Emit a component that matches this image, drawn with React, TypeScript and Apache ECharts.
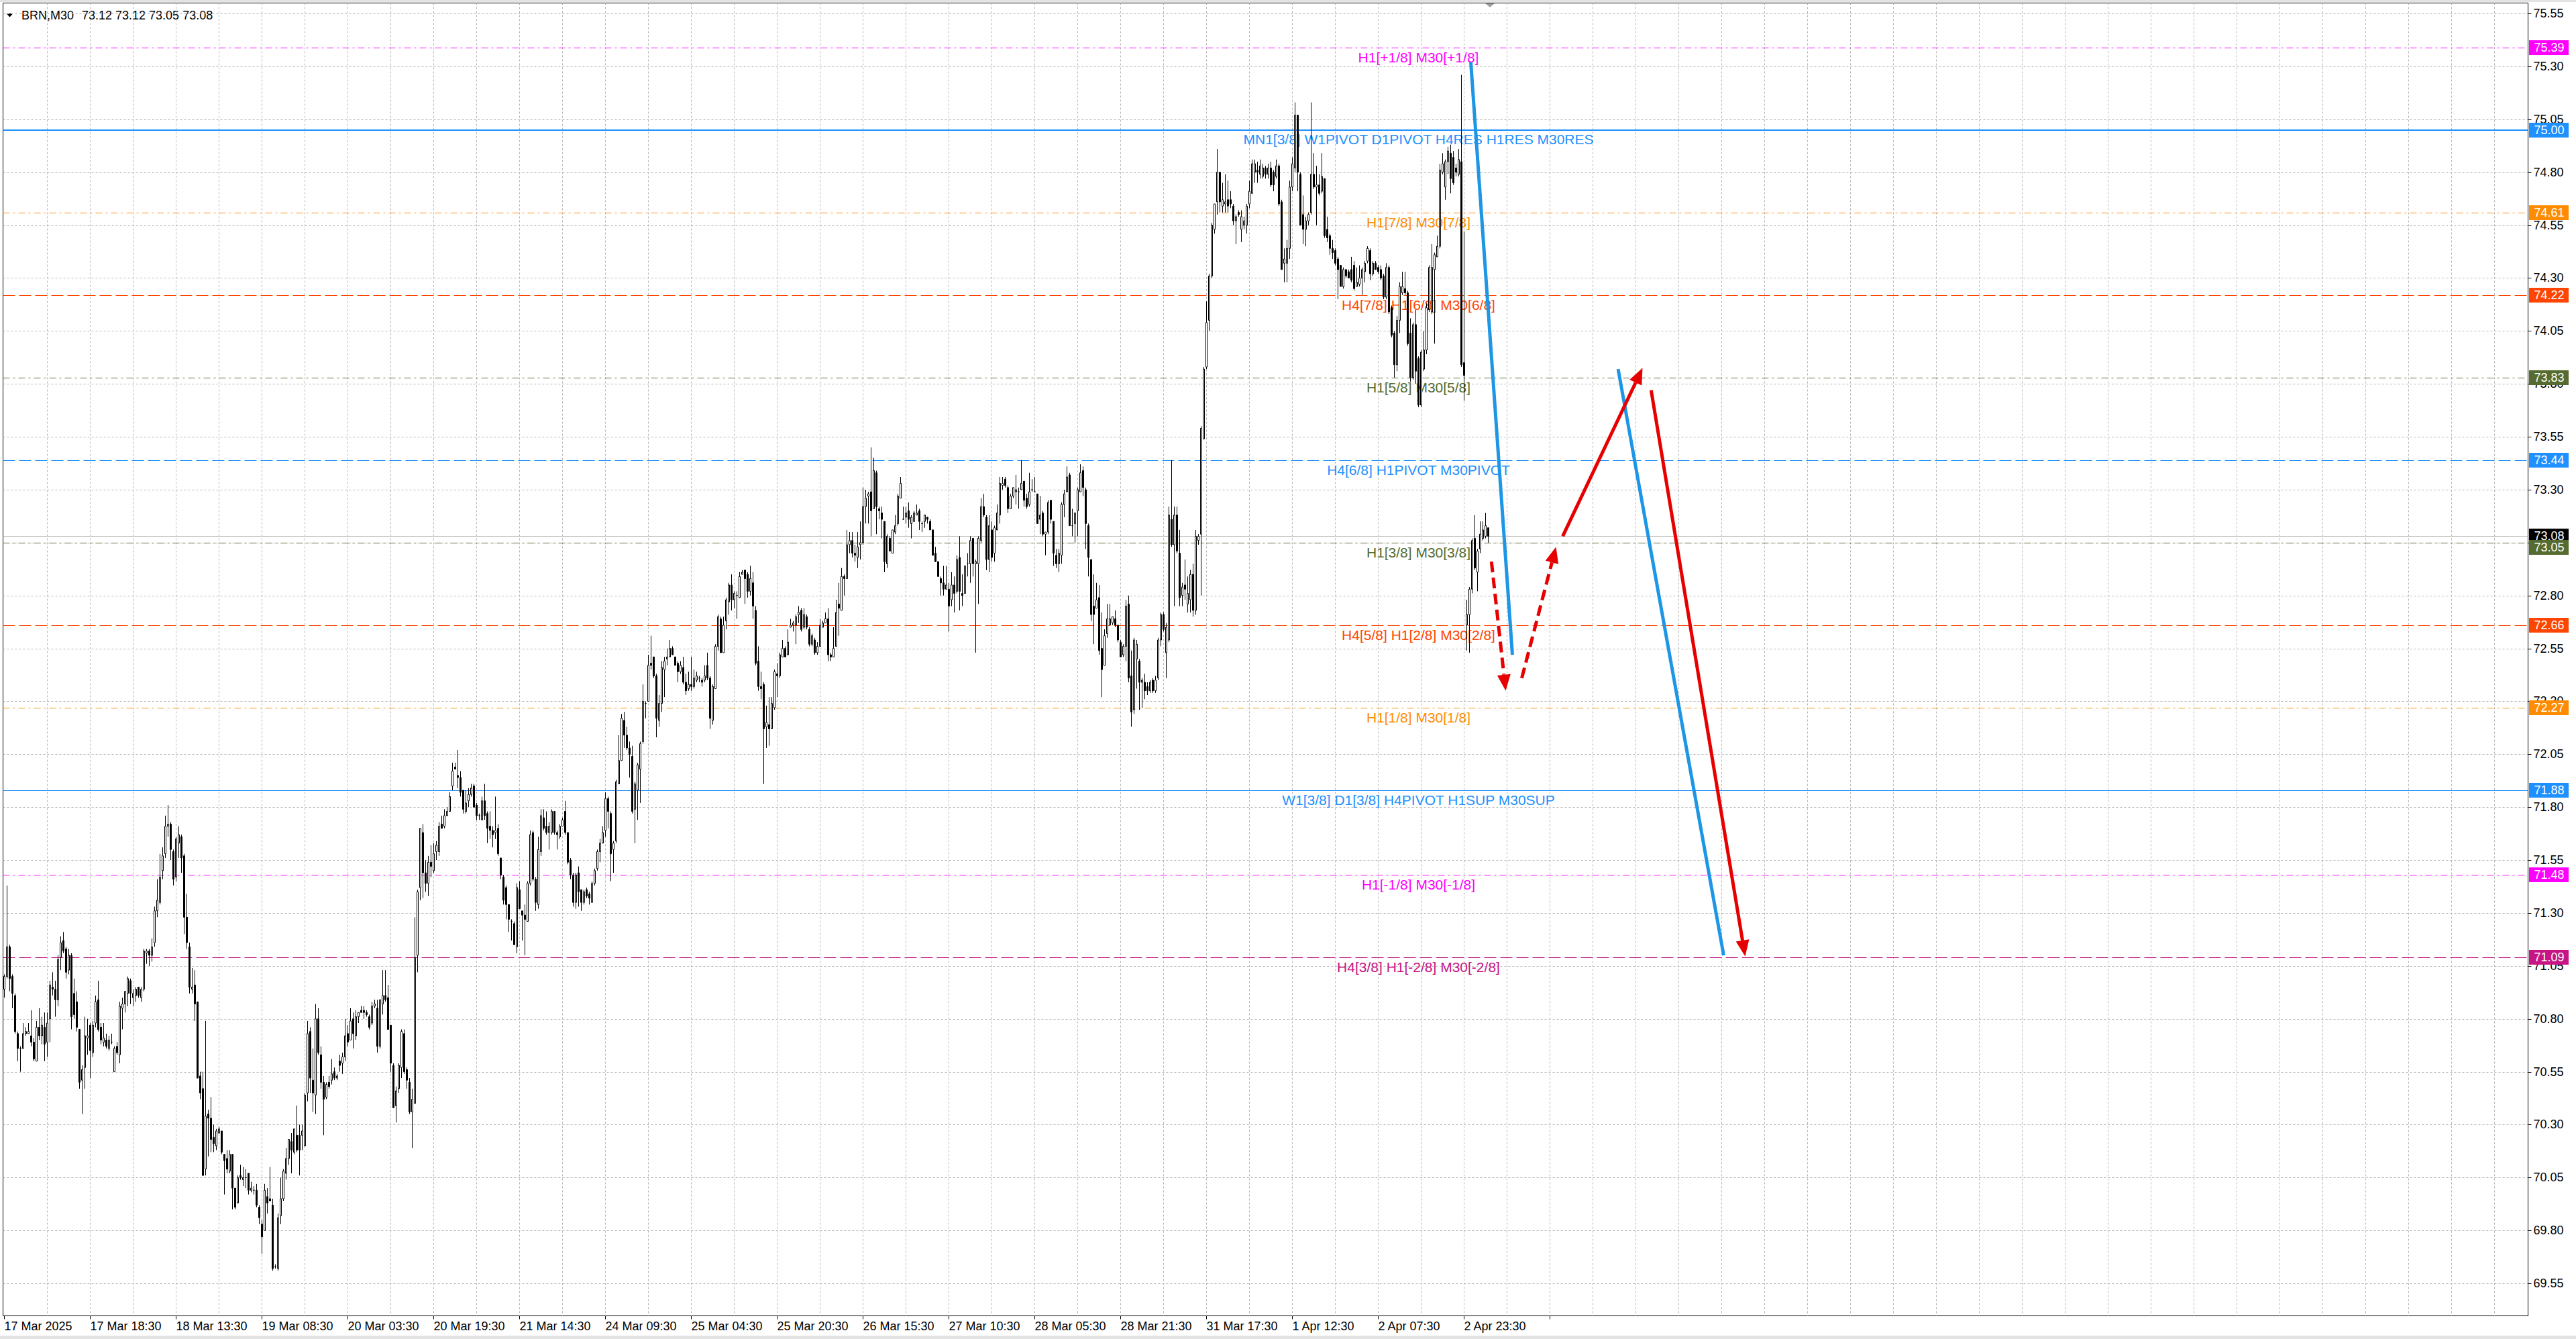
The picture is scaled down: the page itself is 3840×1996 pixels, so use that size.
import React, { useEffect, useRef } from 'react';
import * as echarts from 'echarts';

const FONT_FAMILY = '"Liberation Sans", Arial, sans-serif';

const chartSymbol = 'BRN,M30';

const xTickLabels = [
  '17 Mar 2025', '17 Mar 18:30', '18 Mar 13:30', '19 Mar 08:30', '20 Mar 03:30',
  '20 Mar 19:30', '21 Mar 14:30', '24 Mar 09:30', '25 Mar 04:30', '25 Mar 20:30',
  '26 Mar 15:30', '27 Mar 10:30', '28 Mar 05:30', '28 Mar 21:30', '31 Mar 17:30',
  '1 Apr 12:30', '2 Apr 07:30', '2 Apr 23:30',
];
const barsPerTimeLabel = 32;
const lastTickBar = 576;
const barsPerVerticalGrid = 16;
const slotCount = 941;

const yTicks = [
  75.55, 75.3, 75.05, 74.8, 74.55, 74.3, 74.05, 73.8, 73.55, 73.3, 73.05, 72.8, 72.55,
  72.3, 72.05, 71.8, 71.55, 71.3, 71.05, 70.8, 70.55, 70.3, 70.05, 69.8, 69.55,
];
const priceMin = 69.3966;
const priceMax = 75.5994;

// [open, high, low, close]
const candlesA = [
  [70.94,71.01,70.90,71.00],[71.00,71.43,70.99,71.14],[71.14,71.15,70.93,70.99],[71.00,71.01,70.85,70.92],
  [70.91,70.92,70.73,70.74],[70.73,70.74,70.60,70.66],[70.66,70.67,70.55,70.66],[70.66,70.78,70.66,70.73],
  [70.73,70.76,70.72,70.74],[70.73,70.78,70.73,70.74],[70.72,70.84,70.67,70.69],[70.69,70.71,70.60,70.61],
  [70.60,70.79,70.60,70.76],[70.76,70.85,70.70,70.72],[70.72,70.81,70.68,70.77],[70.76,70.83,70.60,70.68],
  [70.69,70.83,70.62,70.78],[70.80,70.98,70.69,70.96],[70.95,71.02,70.91,70.94],[70.94,70.98,70.81,70.89],
  [70.89,71.10,70.86,71.08],[71.09,71.19,71.03,71.16],[71.17,71.21,71.11,71.12],[71.13,71.14,70.99,71.02],
  [71.03,71.13,71.01,71.10],[71.10,71.11,70.75,70.81],[70.92,70.99,70.80,70.82],[70.88,70.93,70.74,70.76],
  [70.75,70.75,70.47,70.50],[70.51,70.58,70.35,70.56],[70.57,70.81,70.47,70.72],[70.71,70.80,70.63,70.72],
  [70.77,70.78,70.52,70.65],[70.64,70.79,70.62,70.77],[70.78,70.91,70.76,70.88],[70.89,70.98,70.74,70.75],
  [70.76,70.78,70.68,70.70],[70.69,70.78,70.67,70.71],[70.70,70.73,70.66,70.67],[70.66,70.72,70.65,70.70],
  [70.69,70.73,70.68,70.69],[70.55,70.67,70.55,70.66],[70.67,70.69,70.63,70.64],[70.63,70.88,70.59,70.86],
  [70.85,70.90,70.75,70.87],[70.87,70.93,70.83,70.93],[70.92,71.00,70.86,70.99],[70.98,70.99,70.87,70.92],
  [70.90,70.94,70.86,70.92],[70.91,70.95,70.88,70.94],[70.95,70.95,70.90,70.91],[70.90,70.95,70.88,70.94],
  [70.94,71.13,70.93,71.12],[71.11,71.13,71.06,71.12],[71.12,71.13,71.05,71.10],[71.10,71.18,71.07,71.14],
  [71.16,71.33,71.14,71.31],[71.31,71.46,71.28,71.36],[71.35,71.58,71.34,71.47],[71.50,71.61,71.46,71.57],
  [71.58,71.76,71.56,71.71],[71.71,71.81,71.66,71.72],[71.72,71.73,71.55,71.60],[71.59,71.60,71.43,71.46],
  [71.47,71.66,71.45,71.65],[71.63,71.71,71.56,71.67],[71.66,71.67,71.49,71.56],[71.57,71.58,71.20,71.28],
  [71.28,71.39,71.13,71.16],[71.14,71.16,70.92,70.95],[70.94,71.04,70.92,70.95],[70.96,71.03,70.79,70.87],
  [70.88,70.88,70.52,70.52],[70.53,70.55,70.42,70.45],[70.47,70.55,70.06,70.06],[70.09,70.79,70.06,70.34],
  [70.35,70.37,70.15,70.33],[70.33,70.43,70.17,70.23],[70.24,70.30,70.17,70.21],[70.20,70.28,70.18,70.27],
  [70.26,70.29,70.26,70.28],[70.27,70.27,70.16,70.17],[70.16,70.16,69.97,70.13],[70.14,70.18,70.07,70.09],
  [70.08,70.18,70.07,70.16],[70.16,70.16,69.90,70.00],[70.00,70.00,69.90,69.91],[69.93,70.06,69.93,70.05],
  [70.06,70.11,70.04,70.05],[70.04,70.10,70.01,70.05],[70.05,70.09,70.00,70.05],[70.07,70.07,69.97,69.99],
  [69.99,70.03,69.98,70.00],[69.99,70.01,69.97,69.99],[69.99,70.02,69.91,69.92],[69.91,69.92,69.83,69.86],
  [69.83,69.85,69.69,69.77],[69.80,70.02,69.80,69.99],[69.96,70.00,69.88,69.93],[69.95,70.10,69.94,69.94],
  [69.92,69.95,69.61,69.62],[69.63,69.64,69.62,69.63],[69.62,69.88,69.61,69.86],[69.87,70.05,69.83,69.95],
  [69.95,70.09,69.94,70.08],[70.07,70.19,70.04,70.14],[70.14,70.23,70.11,70.23],[70.22,70.26,70.07,70.18],
  [70.17,70.28,70.16,70.28],[70.25,70.39,70.17,70.18],[70.25,70.30,70.06,70.18],[70.25,70.30,70.18,70.27],
  [70.20,70.45,70.20,70.44],[70.45,70.79,70.41,70.73],[70.74,70.76,70.45,70.52],[70.51,70.66,70.36,70.45],
  [70.44,70.87,70.35,70.80],[70.80,70.85,70.63,70.64],[70.63,70.67,70.47,70.50],[70.50,70.53,70.25,70.42],
  [70.43,70.50,70.42,70.49],[70.50,70.53,70.47,70.48],[70.51,70.61,70.49,70.54],[70.55,70.57,70.51,70.52],
  [70.52,70.54,70.51,70.53],[70.60,70.63,70.55,70.58],[70.59,70.64,70.54,70.62],[70.62,70.80,70.60,70.72],
  [70.73,70.77,70.67,70.69],[70.70,70.85,70.70,70.79],[70.80,70.83,70.66,70.73],[70.72,70.84,70.70,70.81],
  [70.81,70.83,70.78,70.83],[70.84,70.86,70.83,70.83],[70.84,70.86,70.80,70.83],[70.83,70.84,70.81,70.82],
  [70.81,70.82,70.75,70.76],[70.78,70.88,70.77,70.86],[70.86,70.89,70.85,70.87],
];

const candlesB = [
  [70.85,70.89,70.64,70.67],[70.67,70.89,70.66,70.89],[70.87,71.03,70.82,70.91],[70.91,71.03,70.88,70.89],
  [70.90,70.96,70.75,70.75],[70.77,70.77,70.55,70.59],[70.58,70.59,70.38,70.38],[70.39,70.48,70.31,70.46],
  [70.47,70.59,70.45,70.58],[70.57,70.75,70.52,70.74],[70.73,70.75,70.54,70.55],[70.56,70.57,70.47,70.51],
  [70.50,70.52,70.35,70.36],[70.36,70.47,70.19,70.42],[70.40,71.28,70.40,71.09],[71.10,71.41,71.02,71.40],
  [71.42,71.70,71.36,71.70],[71.68,71.72,71.37,71.49],[71.49,71.55,71.40,71.44],[71.44,71.57,71.38,71.54],
  [71.54,71.62,71.47,71.52],[71.50,71.63,71.49,71.58],[71.59,71.64,71.55,71.62],[71.59,71.73,71.57,71.71],
  [71.72,71.76,71.70,71.70],[71.71,71.79,71.70,71.76],[71.76,71.80,71.76,71.78],[71.78,71.87,71.78,71.85],
  [71.90,72.01,71.88,71.97],[71.99,72.01,71.98,71.98],[71.95,72.07,71.89,71.94],[71.94,71.97,71.85,71.87],
  [71.88,71.88,71.77,71.79],[71.78,71.88,71.77,71.82],[71.83,71.89,71.80,71.86],[71.86,71.91,71.85,71.89],
  [71.90,71.91,71.80,71.80],[71.81,71.82,71.74,71.76],[71.76,71.77,71.74,71.76],[71.74,71.85,71.74,71.83],
  [71.83,71.91,71.74,71.76],[71.77,71.78,71.63,71.70],[71.71,71.78,71.65,71.69],[71.69,71.71,71.61,71.67],
  [71.68,71.85,71.65,71.69],[71.70,71.72,71.57,71.58],[71.56,71.56,71.46,71.48],[71.47,71.48,71.34,71.36],
  [71.42,71.43,71.27,71.34],[71.34,71.34,71.21,71.27],[71.26,71.27,71.17,71.26],[71.25,71.26,71.15,71.15],
  [71.14,71.44,71.11,71.42],[71.41,71.45,71.32,71.32],[71.31,71.31,71.17,71.29],[71.29,71.34,71.10,71.27],
  [71.26,71.45,71.26,71.44],[71.44,71.69,71.43,71.67],[71.68,71.69,71.45,71.46],[71.46,71.47,71.31,71.35],
  [71.34,71.66,71.32,71.60],[71.59,71.79,71.57,71.76],[71.75,71.79,71.69,71.70],[71.71,71.78,71.67,71.68],
  [71.68,71.73,71.60,71.71],[71.68,71.79,71.67,71.78],[71.78,71.78,71.67,71.68],[71.68,71.69,71.60,71.67],
  [71.66,71.72,71.65,71.71],[71.71,71.75,71.71,71.74],[71.78,71.83,71.67,71.68],[71.68,71.68,71.53,71.54],
  [71.55,71.56,71.46,71.48],[71.48,71.49,71.33,71.35],[71.35,71.49,71.32,71.48],[71.49,71.52,71.33,71.40],
  [71.41,71.41,71.31,71.35],[71.35,71.41,71.34,71.40],[71.41,71.42,71.37,71.38],[71.39,71.40,71.34,71.37],
  [71.35,71.45,71.35,71.44],[71.44,71.51,71.43,71.50],[71.51,71.60,71.50,71.59],[71.59,71.65,71.54,71.63],
  [71.63,71.71,71.63,71.68],[71.69,71.87,71.66,71.84],[71.84,71.85,71.70,71.78],[71.77,71.78,71.45,71.58],
  [71.60,71.64,71.49,71.63],[71.64,71.93,71.63,71.92],[71.91,72.14,71.91,72.02],[72.02,72.24,72.02,72.22],
  [72.21,72.25,72.08,72.14],[72.14,72.18,72.07,72.08],[72.08,72.11,71.94,72.05],[72.04,72.09,71.77,71.78],
  [71.79,71.92,71.63,71.91],[71.88,72.01,71.74,72.00],[71.98,72.11,71.82,72.10],[72.11,72.38,72.10,72.30],
  [72.29,72.30,72.22,72.29],[72.30,72.52,72.30,72.47],[72.48,72.61,72.45,72.47],[72.51,72.51,72.41,72.42],
  [72.42,72.43,72.13,72.22],[72.21,72.33,72.18,72.29],[72.29,72.49,72.25,72.46],[72.45,72.51,72.32,72.49],
  [72.50,72.55,72.47,72.51],[72.51,72.59,72.51,72.55],[72.55,72.56,72.52,72.52],[72.51,72.51,72.47,72.47],
  [72.48,72.49,72.39,72.44],[72.44,72.49,72.43,72.47],[72.46,72.51,72.38,72.39],[72.39,72.43,72.33,72.35],
  [72.36,72.44,72.35,72.38],[72.38,72.51,72.35,72.37],[72.37,72.45,72.36,72.41],[72.40,72.44,72.39,72.42],
  [72.41,72.42,72.39,72.41],[72.40,72.41,72.37,72.39],[72.40,72.47,72.39,72.42],[72.47,72.53,72.40,72.41],
  [72.41,72.42,72.17,72.22],[72.21,72.38,72.19,72.37],[72.36,72.57,72.36,72.56],[72.56,72.71,72.54,72.70],
  [72.69,72.70,72.53,72.53],[72.53,72.70,72.53,72.66],[72.68,72.79,72.64,72.78],[72.77,72.86,72.71,72.85],
  [72.85,72.90,72.73,72.78],[72.78,72.82,72.74,72.81],[72.80,72.82,72.69,72.80],[72.79,72.91,72.79,72.89],
  [72.90,72.92,72.90,72.91],[72.92,72.92,72.76,72.88],[72.90,72.91,72.79,72.82],[72.82,72.94,72.80,72.88],
];

const candlesC = [
  [72.86,72.91,72.69,72.75],[72.73,72.75,72.47,72.48],[72.49,72.56,72.35,72.37],[72.37,72.44,72.31,72.36],
  [72.38,72.39,71.91,72.17],[72.18,72.28,72.08,72.20],[72.19,72.32,72.09,72.17],[72.17,72.32,72.17,72.29],
  [72.27,72.45,72.26,72.44],[72.43,72.48,72.32,72.42],[72.42,72.53,72.41,72.52],[72.51,72.59,72.51,72.55],
  [72.55,72.56,72.51,72.51],[72.52,72.64,72.52,72.58],[72.65,72.69,72.65,72.66],[72.66,72.68,72.63,72.67],
  [72.66,72.71,72.57,72.70],[72.71,72.75,72.67,72.72],[72.73,72.74,72.63,72.64],[72.65,72.74,72.64,72.71],
  [72.70,72.71,72.64,72.65],[72.64,72.65,72.56,72.57],[72.57,72.62,72.56,72.61],[72.59,72.60,72.52,72.53],
  [72.53,72.58,72.52,72.56],[72.56,72.69,72.56,72.66],[72.65,72.68,72.65,72.67],[72.67,72.72,72.67,72.69],
  [72.69,72.74,72.49,72.52],[72.52,72.53,72.49,72.51],[72.51,72.65,72.51,72.55],[72.56,72.78,72.56,72.72],
  [72.76,72.86,72.61,72.74],[72.73,72.93,72.73,72.89],[72.89,72.90,72.80,72.88],[72.88,73.11,72.88,73.04],
  [73.04,73.10,73.00,73.06],[73.06,73.10,72.98,73.00],[73.00,73.04,72.96,72.99],[72.98,73.10,72.93,73.03],
  [73.04,73.15,72.97,73.05],[73.05,73.31,73.04,73.22],[73.22,73.30,73.14,73.26],[73.27,73.29,73.14,73.28],
  [73.29,73.50,73.08,73.20],[73.21,73.45,73.21,73.39],[73.38,73.39,73.09,73.22],[73.21,73.22,73.16,73.20],
  [73.19,73.22,73.07,73.16],[73.15,73.15,72.91,72.96],[72.95,73.09,72.93,73.08],[73.07,73.08,73.01,73.01],
  [73.00,73.11,73.00,73.11],[73.10,73.18,73.09,73.13],[73.14,73.28,73.13,73.27],[73.26,73.36,73.26,73.33],
  [73.16,73.22,73.16,73.16],[73.17,73.22,73.14,73.19],[73.20,73.24,73.12,73.16],[73.14,73.18,73.07,73.17],
  [73.15,73.20,73.15,73.19],[73.18,73.23,73.18,73.19],[73.20,73.21,73.11,73.15],[73.14,73.15,73.10,73.14],
  [73.15,73.18,73.12,73.18],[73.17,73.17,73.14,73.16],[73.15,73.16,73.11,73.11],[73.11,73.11,72.99,72.99],
  [73.00,73.03,72.96,72.96],[72.96,72.96,72.89,72.89],[72.88,72.89,72.80,72.86],[72.86,72.94,72.80,72.83],
  [72.83,72.94,72.83,72.85],[72.83,72.86,72.63,72.75],[72.78,72.91,72.75,72.85],[72.85,72.89,72.72,72.81],
  [72.82,72.99,72.81,72.97],[72.98,73.08,72.73,72.82],[72.81,72.90,72.75,72.80],[72.81,72.94,72.81,72.94],
  [72.95,73.00,72.89,72.95],[72.95,73.08,72.86,73.06],[73.07,73.07,72.89,72.95],[72.95,72.97,72.53,72.96],
  [72.95,73.08,72.76,73.07],[73.06,73.26,73.05,73.22],[73.22,73.28,73.17,73.18],[73.17,73.18,72.92,72.97],
  [72.97,73.18,72.91,73.13],[73.11,73.15,72.96,72.98],[73.00,73.13,72.96,73.12],[73.11,73.23,73.11,73.19],
  [73.18,73.36,73.14,73.33],[73.32,73.36,73.30,73.33],[73.35,73.36,73.31,73.32],[73.31,73.32,73.19,73.21],
  [73.21,73.28,73.21,73.27],[73.27,73.31,73.26,73.31],[73.29,73.37,73.23,73.30],[73.29,73.31,73.21,73.29],
  [73.30,73.44,73.30,73.33],[73.34,73.34,73.22,73.25],[73.26,73.28,73.21,73.22],[73.23,73.38,73.22,73.29],
  [73.30,73.35,73.29,73.30],[73.29,73.36,73.29,73.29],[73.28,73.28,73.14,73.14],[73.16,73.27,73.09,73.18],
  [73.19,73.20,73.08,73.09],[73.09,73.10,72.99,73.10],[73.10,73.25,73.09,73.24],[73.25,73.25,73.14,73.16],
  [73.15,73.15,72.94,73.00],[72.99,73.02,72.93,72.95],[72.95,73.02,72.91,73.00],[72.99,73.24,72.95,73.23],
  [73.23,73.30,73.17,73.28],[73.29,73.41,73.29,73.36],[73.37,73.38,73.13,73.13],[73.13,73.21,73.08,73.13],
  [73.14,73.19,73.05,73.19],[73.20,73.31,73.08,73.30],[73.29,73.42,73.29,73.38],[73.39,73.41,73.27,73.31],
  [73.30,73.31,73.02,73.14],[73.13,73.14,72.89,72.98],[72.97,72.97,72.68,72.71],[72.75,72.90,72.57,72.71],
  [72.74,72.86,72.74,72.78],[72.79,72.85,72.52,72.54],[72.55,72.72,72.32,72.45],[72.47,72.64,72.47,72.61],
  [72.62,72.76,72.60,72.69],[72.66,72.76,72.66,72.69],[72.67,72.70,72.66,72.70],[72.69,72.73,72.65,72.66],
  [72.66,72.66,72.58,72.59],[72.58,72.59,72.51,72.51],[72.52,72.57,72.51,72.56],[72.56,72.78,72.49,72.75],
];

const candlesD = [
  [72.76,72.80,72.39,72.41],[72.42,72.54,72.18,72.25],[72.26,72.60,72.24,72.59],[72.50,72.59,72.36,72.57],
  [72.49,72.50,72.26,72.39],[72.39,72.41,72.27,72.40],[72.39,72.43,72.31,72.35],[72.37,72.39,72.33,72.35],
  [72.35,72.40,72.34,72.39],[72.40,72.41,72.34,72.35],[72.35,72.42,72.34,72.40],[72.41,72.60,72.40,72.59],
  [72.59,72.72,72.56,72.71],[72.71,72.72,72.63,72.64],[72.53,72.67,72.41,72.65],[72.59,73.22,72.58,73.18],
  [73.16,73.44,73.03,73.04],[73.04,73.22,72.75,73.18],[73.18,73.22,73.00,73.01],[73.00,73.11,72.75,72.79],
  [72.80,72.86,72.75,72.84],[72.85,72.97,72.78,72.83],[72.76,72.89,72.72,72.81],[72.78,72.92,72.72,72.90],
  [72.90,72.95,72.70,72.73],[72.73,73.11,72.71,73.08],[73.06,73.09,73.04,73.08],[73.09,73.60,72.80,73.59],
  [73.54,73.88,73.54,73.87],[73.88,74.19,73.87,74.09],[74.10,74.32,74.05,74.31],[74.31,74.56,74.30,74.55],
  [74.53,74.65,74.51,74.65],[74.66,74.91,74.60,74.80],[74.80,74.80,74.61,74.66],[74.64,74.75,74.61,74.67],
  [74.65,74.79,74.61,74.66],[74.67,74.76,74.61,74.64],[74.67,74.71,74.63,74.65],[74.64,74.65,74.55,74.57],
  [74.57,74.60,74.46,74.59],[74.61,74.62,74.59,74.60],[74.53,74.62,74.47,74.59],[74.55,74.59,74.53,74.57],
  [74.55,74.65,74.51,74.64],[74.65,74.76,74.63,74.71],[74.70,74.86,74.70,74.84],[74.80,74.86,74.75,74.84],
  [74.81,74.85,74.75,74.80],[74.79,74.86,74.77,74.83],[74.78,74.84,74.77,74.82],[74.82,74.83,74.77,74.79],
  [74.79,74.84,74.77,74.82],[74.82,74.85,74.73,74.74],[74.80,74.81,74.71,74.74],[74.78,74.86,74.77,74.83],
  [74.83,74.84,74.64,74.65],[74.66,74.67,74.34,74.34],[74.37,74.44,74.28,74.39],[74.37,74.48,74.28,74.44],
  [74.44,74.76,74.39,74.73],[74.73,74.87,74.71,74.84],[74.82,75.13,74.80,75.07],[75.07,75.07,74.71,74.80],
  [74.79,74.80,74.55,74.55],[74.60,74.69,74.46,74.53],[74.53,74.59,74.45,74.57],[74.57,74.61,74.55,74.60],
  [74.61,75.13,74.60,74.79],[74.79,74.89,74.72,74.73],[74.73,74.83,74.55,74.74],[74.74,74.79,74.69,74.70],
  [74.71,74.89,74.70,74.78],[74.77,74.77,74.49,74.50],[74.53,74.59,74.47,74.49],[74.50,74.51,74.41,74.44],
  [74.44,74.48,74.39,74.42],[74.43,74.44,74.36,74.37],[74.39,74.40,74.20,74.34],[74.36,74.36,74.26,74.26],
  [74.26,74.35,74.25,74.34],[74.34,74.34,74.30,74.31],[74.33,74.34,74.30,74.30],[74.34,74.40,74.28,74.29],
  [74.36,74.38,74.24,74.25],[74.26,74.35,74.26,74.28],[74.27,74.36,74.26,74.30],[74.30,74.35,74.22,74.34],
  [74.33,74.38,74.28,74.37],[74.38,74.45,74.37,74.44],[74.43,74.44,74.29,74.32],[74.32,74.38,74.31,74.37],
  [74.37,74.38,74.34,74.34],[74.35,74.36,74.32,74.33],[74.34,74.36,74.29,74.30],[74.31,74.32,74.20,74.21],
  [74.21,74.37,74.20,74.35],[74.35,74.36,74.13,74.14],[74.16,74.17,74.02,74.03],[74.04,74.05,73.83,73.89],
  [73.89,74.12,73.86,74.10],[74.10,74.28,74.04,74.26],[74.23,74.33,74.22,74.26],[74.25,74.33,74.22,74.23],
  [74.23,74.24,73.98,73.99],[74.04,74.11,73.81,73.83],[73.83,74.09,73.82,74.08],[74.08,74.15,73.80,73.86],
  [73.92,73.93,73.69,73.70],[73.70,73.96,73.69,73.95],[73.87,74.05,73.86,73.96],[73.96,74.18,73.94,74.16],
  [74.15,74.36,74.14,74.35],[74.14,74.46,74.13,74.35],[74.34,74.42,73.99,74.41],[74.40,74.50,74.40,74.45],
  [74.45,74.84,74.44,74.81],[74.80,74.89,74.79,74.84],[74.73,74.86,74.67,74.85],[74.85,74.92,74.79,74.90],
  [74.89,74.93,74.70,74.77],[74.87,74.90,74.74,74.75],[74.82,74.84,74.78,74.80],[74.79,74.91,74.78,74.86],
  [74.85,75.26,73.88,73.89],[73.90,74.52,73.72,73.84],[72.66,72.78,72.54,72.71],[72.71,72.84,72.53,72.83],
  [72.83,73.07,72.81,73.06],[73.07,73.18,72.92,72.93],[72.91,73.02,72.82,73.01],[73.02,73.15,73.00,73.09],
  [73.07,73.15,73.06,73.11],[73.08,73.19,73.07,73.13],[73.12,73.12,73.05,73.08],
];

const levelPrices = [75.39, 75.0, 74.61, 74.22, 73.83, 73.44, 73.05, 72.66, 72.27, 71.88, 71.48, 71.09];
const levelNames = [
  'H1[+1/8] M30[+1/8]',
  'MN1[3/8] W1PIVOT D1PIVOT H4RES H1RES M30RES',
  'H1[7/8] M30[7/8]',
  'H4[7/8] H1[6/8] M30[6/8]',
  'H1[5/8] M30[5/8]',
  'H4[6/8] H1PIVOT M30PIVOT',
  'H1[3/8] M30[3/8]',
  'H4[5/8] H1[2/8] M30[2/8]',
  'H1[1/8] M30[1/8]',
  'W1[3/8] D1[3/8] H4PIVOT H1SUP M30SUP',
  'H1[-1/8] M30[-1/8]',
  'H4[3/8] H1[-2/8] M30[-2/8]',
];
const levelColors = [
  '#FF00FF', '#1E90FF', '#FF8C00', '#FF4500', '#556B2F', '#1E90FF',
  '#556B2F', '#FF4500', '#FF8C00', '#1E90FF', '#FF00FF', '#C71585',
];
const levelStyles = [
  'dashdot', 'solid', 'dashdot', 'dash', 'dashdot', 'dash',
  'dashdot', 'dash', 'dashdot', 'solid', 'dashdot', 'dash',
];
const levelWidths = [1, 2, 1, 1, 1, 1, 1, 1, 1, 1, 1, 1];
const levelLabelBar = 527;

// forecast drawings: [fromBar, fromPrice, toBar, toPrice]
const forecastBlueLines = [
  [546.5, 75.32, 562.0, 72.52],
  [601.4, 73.87, 640.75, 71.1],
];
const forecastRedArrows = [
  [580.75, 73.08, 610.5, 73.875],
  [613.7, 73.77, 648.75, 71.095],
];
const forecastRedDashedArrows = [
  [554.2, 72.96, 559.5, 72.35],
  [565.5, 72.41, 578.25, 73.03],
];

const candles = [...candlesA, ...candlesB, ...candlesC, ...candlesD];

const DASH_STYLES: Record<string, number[] | null> = {
  solid: null,
  dash: [18, 6],
  dashdot: [10, 5, 3, 5],
};

function makeForecastRenderer(color: string, width: number, dashed: boolean, arrow: boolean) {
  return (params: any, api: any) => {
    const a = api.coord([api.value(0), api.value(1)]);
    const b = api.coord([api.value(2), api.value(3)]);
    const dx = b[0] - a[0];
    const dy = b[1] - a[1];
    const len = Math.hypot(dx, dy) || 1;
    const ux = dx / len;
    const uy = dy / len;
    const headLen = arrow ? 24 : 0;
    const half = 10;
    const ex = b[0] - ux * headLen;
    const ey = b[1] - uy * headLen;
    const lineStyle: any = { stroke: color, lineWidth: width, lineCap: 'butt' };
    if (dashed) lineStyle.lineDash = [16, 8];
    const children: any[] = [
      { type: 'line', shape: { x1: a[0], y1: a[1], x2: ex, y2: ey }, style: lineStyle },
    ];
    if (arrow) {
      children.push({
        type: 'polygon',
        shape: { points: [[b[0], b[1]], [ex - uy * half, ey + ux * half], [ex + uy * half, ey - ux * half]] },
        style: { fill: color },
      });
    }
    return { type: 'group', children };
  };
}

export default function App() {
  const ref = useRef<HTMLDivElement>(null);

  useEffect(() => {
    document.body.style.margin = '0';
    document.body.style.overflow = 'hidden';
    if (!ref.current) return;
    const chart = echarts.init(ref.current, null, { renderer: 'svg' });

    const categories = Array.from({ length: slotCount }, (_, i) =>
      i % barsPerTimeLabel === 0 && i / barsPerTimeLabel < xTickLabels.length
        ? xTickLabels[i / barsPerTimeLabel]
        : 'b' + i,
    );
    const last = candles[candles.length - 1];
    const bid = last[3];
    const headerValues = [last[0], last[1], last[2], last[3]].map((v) => v.toFixed(2)).join(' ');

    const verticalGrid: number[][] = [];
    for (let i = barsPerVerticalGrid; i < slotCount; i += barsPerVerticalGrid) verticalGrid.push([i, priceMin]);

    const priceTags = [{ p: bid, color: '#000000', isBid: true }].concat(
      levelPrices.map((p, i) => ({ p, color: levelColors[i], isBid: false })),
    );

    const gridColor = '#b4b4b4';

    const option: any = {
      animation: false,
      backgroundColor: '#ffffff',
      grid: {
        left: 4.5,
        top: 4.5,
        width: slotCount * 4,
        height: 1957,
        show: true,
        borderColor: '#000',
        borderWidth: 1,
        backgroundColor: '#fff',
        containLabel: false,
      },
      xAxis: [
        {
          type: 'category',
          data: categories,
          boundaryGap: true,
          axisLine: { show: true, lineStyle: { color: '#000', width: 1 } },
          axisTick: {
            show: true,
            alignWithLabel: true,
            length: 5,
            interval: (i: number) => i % barsPerTimeLabel === 0 && i <= lastTickBar,
            lineStyle: { color: '#000' },
          },
          axisLabel: {
            show: true,
            interval: (i: number) => i % barsPerTimeLabel === 0 && i / barsPerTimeLabel < xTickLabels.length,
            align: 'left',
            margin: 6,
            color: '#000',
            fontFamily: FONT_FAMILY,
            fontSize: 18,
          },
          splitLine: { show: false },
        },
        { type: 'value', min: -0.5, max: slotCount - 0.5, show: false },
      ],
      yAxis: [{ type: 'value', min: priceMin, max: priceMax, show: false, scale: true }],
      series: [
        {
          type: 'custom',
          name: 'ygrid',
          xAxisIndex: 1,
          yAxisIndex: 0,
          z: 1,
          silent: true,
          data: yTicks.map((v) => [0, v]),
          renderItem: (params: any, api: any) => {
            const v = api.value(1);
            const pt = api.coord([0, v]);
            const cs = params.coordSys;
            const y = Math.round(pt[1]) + 0.5;
            const right = cs.x + cs.width;
            return {
              type: 'group',
              children: [
                { type: 'line', shape: { x1: cs.x, y1: y, x2: right, y2: y }, style: { stroke: gridColor, lineWidth: 1, lineDash: [3, 3] } },
                { type: 'line', shape: { x1: right, y1: y, x2: right + 5, y2: y }, style: { stroke: '#000', lineWidth: 1 } },
                {
                  type: 'text',
                  x: right + 8,
                  y: pt[1],
                  style: { text: v.toFixed(2), fill: '#000', font: '18px ' + FONT_FAMILY, align: 'left', verticalAlign: 'middle' },
                },
              ],
            };
          },
        },
        {
          type: 'custom',
          name: 'xgrid',
          xAxisIndex: 1,
          yAxisIndex: 0,
          z: 1,
          silent: true,
          data: verticalGrid,
          renderItem: (params: any, api: any) => {
            const pt = api.coord([api.value(0), priceMin]);
            const cs = params.coordSys;
            const x = Math.floor(pt[0]) + 0.5;
            return {
              type: 'line',
              shape: { x1: x, y1: cs.y, x2: x, y2: cs.y + cs.height },
              style: { stroke: gridColor, lineWidth: 1, lineDash: [3, 3] },
            };
          },
        },
        {
          type: 'custom',
          name: 'bidline',
          xAxisIndex: 1,
          yAxisIndex: 0,
          z: 2,
          silent: true,
          data: [[0, bid]],
          renderItem: (params: any, api: any) => {
            const pt = api.coord([0, api.value(1)]);
            const cs = params.coordSys;
            const y = Math.round(pt[1]) + 0.5;
            return { type: 'line', shape: { x1: cs.x, y1: y, x2: cs.x + cs.width, y2: y }, style: { stroke: '#c0c0c0', lineWidth: 1 } };
          },
        },
        {
          type: 'custom',
          name: 'levels',
          xAxisIndex: 1,
          yAxisIndex: 0,
          z: 2,
          silent: true,
          data: levelPrices.map((p, i) => [levelLabelBar, p, i]),
          renderItem: (params: any, api: any) => {
            const idx = api.value(2);
            const pt = api.coord([api.value(0), api.value(1)]);
            const cs = params.coordSys;
            const w = levelWidths[idx];
            const y = w % 2 === 1 ? Math.round(pt[1]) + 0.5 : Math.round(pt[1]);
            const color = levelColors[idx];
            const dash = DASH_STYLES[levelStyles[idx]];
            const lineStyle: any = { stroke: color, lineWidth: w };
            if (dash) lineStyle.lineDash = dash;
            return {
              type: 'group',
              children: [
                { type: 'line', shape: { x1: cs.x, y1: y, x2: cs.x + cs.width, y2: y }, style: lineStyle },
                {
                  type: 'text',
                  x: pt[0],
                  y: y + 3,
                  style: { text: levelNames[idx], fill: color, font: '21px ' + FONT_FAMILY, align: 'center', verticalAlign: 'top' },
                },
              ],
            };
          },
        },
        {
          type: 'candlestick',
          name: chartSymbol,
          xAxisIndex: 0,
          yAxisIndex: 0,
          z: 3,
          silent: true,
          large: false,
          barWidth: 2,
          data: candles.map(([o, h, l, c]) => [o, c, l, h]),
          itemStyle: {
            color: '#ffffff',
            color0: '#000000',
            borderColor: '#000000',
            borderColor0: '#000000',
            borderColorDoji: '#000000',
            borderWidth: 1,
          },
        },
        {
          type: 'custom',
          name: 'blue',
          xAxisIndex: 1,
          yAxisIndex: 0,
          z: 4,
          silent: true,
          data: forecastBlueLines,
          renderItem: makeForecastRenderer('#1E96E6', 5, false, false),
        },
        {
          type: 'custom',
          name: 'red',
          xAxisIndex: 1,
          yAxisIndex: 0,
          z: 4,
          silent: true,
          data: forecastRedArrows,
          renderItem: makeForecastRenderer('#E60000', 5, false, true),
        },
        {
          type: 'custom',
          name: 'reddash',
          xAxisIndex: 1,
          yAxisIndex: 0,
          z: 4,
          silent: true,
          data: forecastRedDashedArrows,
          renderItem: makeForecastRenderer('#E60000', 5, true, true),
        },
        {
          type: 'custom',
          name: 'tags',
          xAxisIndex: 1,
          yAxisIndex: 0,
          z: 6,
          silent: true,
          data: priceTags.map((t, i) => [0, t.p, i]),
          renderItem: (params: any, api: any) => {
            const idx = api.value(2);
            const tag = priceTags[idx];
            const pt = api.coord([0, tag.p]);
            const cs = params.coordSys;
            const right = cs.x + cs.width;
            let cy = pt[1];
            if (!tag.isBid && Math.abs(tag.p - bid) < 0.05 && tag.p < bid) cy += 7;
            return {
              type: 'group',
              children: [
                { type: 'rect', shape: { x: Math.round(right) + 1, y: Math.round(cy - 11), width: 59, height: 22 }, style: { fill: tag.color } },
                {
                  type: 'text',
                  x: Math.round(right) + 31,
                  y: cy,
                  style: { text: tag.p.toFixed(2), fill: '#fff', font: '18px ' + FONT_FAMILY, align: 'center', verticalAlign: 'middle' },
                },
              ],
            };
          },
        },
      ],
      graphic: [
        { type: 'rect', left: 0, top: 0, shape: { width: 3840, height: 3 }, style: { fill: '#e3e3e3' }, silent: true },
        { type: 'rect', left: 0, top: 1991, shape: { width: 3840, height: 5 }, style: { fill: '#e3e3e3' }, silent: true },
        {
          type: 'polygon',
          shape: { points: [[9.5, 20], [19.5, 20], [14.5, 25.5]] },
          style: { fill: '#000' },
          silent: true,
        },
        {
          type: 'text',
          x: 32,
          y: 22.5,
          style: { text: chartSymbol, fill: '#000', font: '18px ' + FONT_FAMILY, verticalAlign: 'middle', align: 'left' },
          silent: true,
        },
        {
          type: 'text',
          x: 122,
          y: 22.5,
          style: { text: headerValues, fill: '#000', font: '18px ' + FONT_FAMILY, verticalAlign: 'middle', align: 'left' },
          silent: true,
        },
        {
          type: 'polygon',
          shape: { points: [[2214, 5], [2228, 5], [2221, 11]] },
          style: { fill: '#a0a0a0' },
          silent: true,
        },
      ],
    };

    chart.setOption(option);
    return () => {
      chart.dispose();
    };
  }, []);

  return <div ref={ref} style={{ width: '3840px', height: '1996px' }} />;
}
